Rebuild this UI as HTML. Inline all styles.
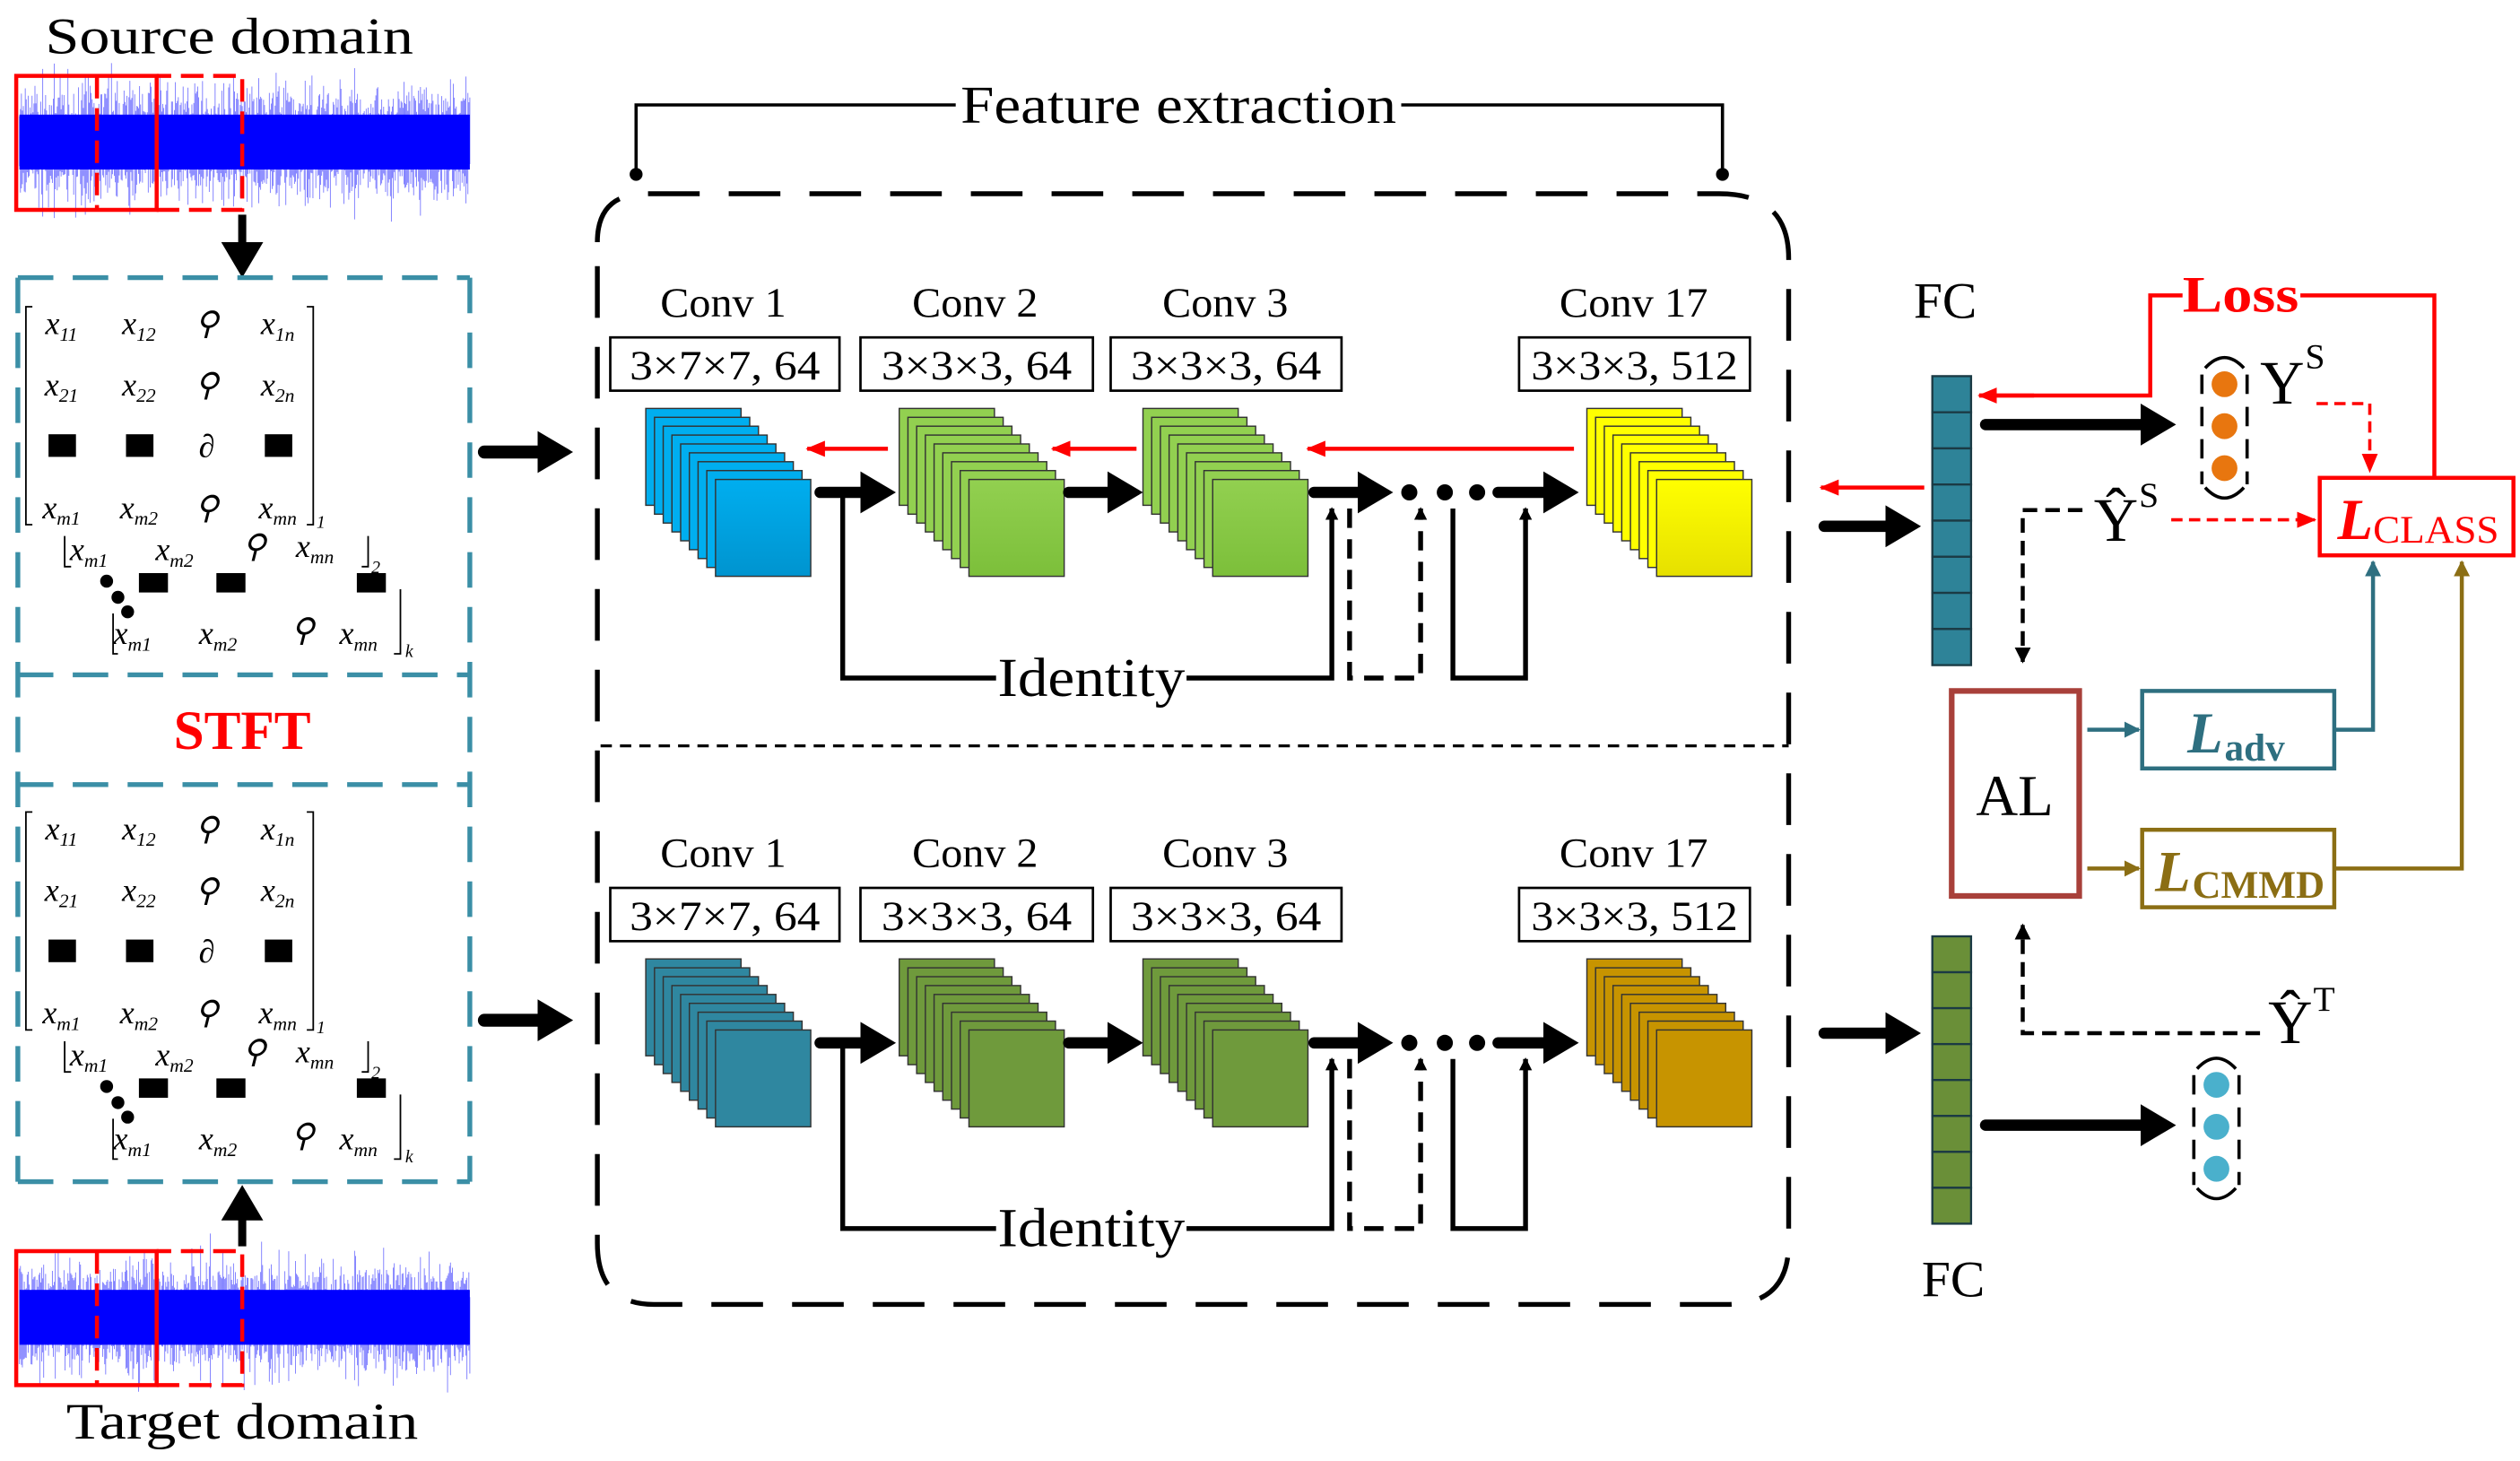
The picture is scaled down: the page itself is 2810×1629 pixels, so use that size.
<!DOCTYPE html>
<html><head><meta charset="utf-8"><style>
html,body{margin:0;padding:0;background:#fff;}
svg{display:block;}
text{font-family:"Liberation Serif",serif;}
</style></head><body>
<svg id="s" width="2810" height="1629" viewBox="0 0 1561 905" xmlns="http://www.w3.org/2000/svg">
<defs>
<marker id="ab" markerWidth="8" markerHeight="8" refX="7" refY="4" orient="auto" markerUnits="userSpaceOnUse"><path d="M0,0 L8,4 L0,8 z" fill="#000"/></marker>
<marker id="ar" markerWidth="12" markerHeight="10" refX="11" refY="5" orient="auto" markerUnits="userSpaceOnUse"><path d="M0,0 L12,5 L0,10 z" fill="#f00"/></marker>
<marker id="at" markerWidth="10" markerHeight="10" refX="9" refY="5" orient="auto" markerUnits="userSpaceOnUse"><path d="M0,0 L10,5 L0,10 z" fill="#2e6f80"/></marker>
<marker id="ao" markerWidth="10" markerHeight="10" refX="9" refY="5" orient="auto" markerUnits="userSpaceOnUse"><path d="M0,0 L10,5 L0,10 z" fill="#8b6e14"/></marker>
<marker id="ak" markerWidth="10" markerHeight="10" refX="9" refY="5" orient="auto" markerUnits="userSpaceOnUse"><path d="M0,0 L10,5 L0,10 z" fill="#000"/></marker>
<marker id="big" markerWidth="22" markerHeight="26" refX="2" refY="13" orient="auto" markerUnits="userSpaceOnUse"><path d="M0,0 L22,13 L0,26 z" fill="#000"/></marker>
<linearGradient id="gb" x1="0" y1="0" x2="0" y2="1"><stop offset="0" stop-color="#00aeef"/><stop offset="1" stop-color="#0094cf"/></linearGradient>
<linearGradient id="gg" x1="0" y1="0" x2="0" y2="1"><stop offset="0" stop-color="#92d050"/><stop offset="1" stop-color="#7cbf3a"/></linearGradient>
<linearGradient id="gy" x1="0" y1="0" x2="0" y2="1"><stop offset="0" stop-color="#ffff00"/><stop offset="1" stop-color="#e6e000"/></linearGradient>
</defs>
<g id="noise"></g>
<text x="142" y="33" font-size="32" text-anchor="middle" textLength="228" lengthAdjust="spacingAndGlyphs">Source domain</text>
<text x="150" y="891" font-size="32" text-anchor="middle" textLength="218" lengthAdjust="spacingAndGlyphs">Target domain</text>
<g fill="none" stroke="#f00" stroke-width="2.5">
<rect x="10" y="47" width="87" height="83"/>
<path d="M60,47 V130 M97,130 H150 V47 H97" stroke-dasharray="14,6"/>
<rect x="10" y="775" width="87" height="83"/>
<path d="M60,775 V858 M97,858 H150 V775 H97" stroke-dasharray="14,6"/>
</g>
<line x1="150" y1="133" x2="150" y2="152" stroke="#000" stroke-width="5" marker-end="url(#big)"/>
<line x1="150" y1="772" x2="150" y2="754" stroke="#000" stroke-width="5" marker-end="url(#big)"/>
<g fill="none" stroke="#3b8fa6" stroke-width="3" stroke-dasharray="22,12">
<path d="M11,172 H291 M11,418 H291 M11,486 H291 M11,732 H291 M11,172 V732 M291,172 V732"/>
</g>
<text x="150" y="464" font-size="34" font-weight="bold" fill="#f00" text-anchor="middle">STFT</text>
<g id="mat"></g>
<line x1="300" y1="280" x2="335" y2="280" stroke="#000" stroke-width="8" stroke-linecap="round" marker-end="url(#big)"/>
<line x1="300" y1="632" x2="335" y2="632" stroke="#000" stroke-width="8" stroke-linecap="round" marker-end="url(#big)"/>
<g fill="none" stroke="#000" stroke-width="3">
<path d="M370,150 Q370,120 400,120 H1065 Q1108,120 1108,160 V770 Q1108,808 1070,808 H405 Q370,808 370,770 Z" stroke-dasharray="32,18"/>
</g>
<line x1="372" y1="462" x2="1108" y2="462" stroke="#000" stroke-width="1.8" stroke-dasharray="7,5"/>
<path d="M394,108 V65 H592 M868,65 H1067 V108" fill="none" stroke="#000" stroke-width="2"/>
<circle cx="394" cy="108" r="4"/><circle cx="1067" cy="108" r="4"/>
<text x="730" y="76" font-size="33" text-anchor="middle" textLength="270" lengthAdjust="spacingAndGlyphs">Feature extraction</text>
<g id="rows"></g>
<g id="fc"></g>
<text x="1205" y="197" font-size="32" text-anchor="middle">FC</text>
<text x="1210" y="803" font-size="32" text-anchor="middle">FC</text>
<line x1="1130" y1="326" x2="1170" y2="326" stroke="#000" stroke-width="7" stroke-linecap="round" marker-end="url(#big)"/>
<line x1="1192" y1="302" x2="1128" y2="302" stroke="#f00" stroke-width="2.5" marker-end="url(#ar)"/>
<line x1="1130" y1="640" x2="1170" y2="640" stroke="#000" stroke-width="7" stroke-linecap="round" marker-end="url(#big)"/>
<line x1="1230" y1="263" x2="1328" y2="263" stroke="#000" stroke-width="7" stroke-linecap="round" marker-end="url(#big)"/>
<line x1="1230" y1="697" x2="1328" y2="697" stroke="#000" stroke-width="7" stroke-linecap="round" marker-end="url(#big)"/>
<g fill="#e8760f"><circle cx="1378" cy="238" r="8"/><circle cx="1378" cy="264" r="8"/><circle cx="1378" cy="290" r="8"/></g>
<g fill="#4ab0cc"><circle cx="1373" cy="672" r="8"/><circle cx="1373" cy="698" r="8"/><circle cx="1373" cy="724" r="8"/></g>
<g fill="none" stroke="#000" stroke-width="2">
<path d="M1366,228 Q1378,215 1390,228 M1366,302 Q1378,315 1390,302"/>
<path d="M1364,232 V300 M1392,232 V300" stroke-dasharray="12,8"/>
<path d="M1361,662 Q1373,649 1385,662 M1361,736 Q1373,749 1385,736"/>
<path d="M1359,666 V734 M1387,666 V734" stroke-dasharray="12,8"/>
</g>
<text x="1400" y="250" font-size="38">Y</text><text x="1428" y="228" font-size="22">S</text>
<text x="1297" y="335" font-size="38">Ŷ</text><text x="1325" y="314" font-size="22">S</text>
<text x="1405" y="646" font-size="38">Ŷ</text><text x="1433" y="626" font-size="22">T</text>
<path d="M1226,245 H1332 V183 H1352 M1425,183 H1508 V296" fill="none" stroke="#f00" stroke-width="2.5"/>
<line x1="1260" y1="245" x2="1226" y2="245" stroke="#f00" stroke-width="2.5" marker-end="url(#ar)"/>
<text x="1388" y="193" font-size="32" font-weight="bold" fill="#f00" text-anchor="middle" textLength="72" lengthAdjust="spacingAndGlyphs">Loss</text>
<path d="M1435,250 H1468 V292" fill="none" stroke="#f00" stroke-width="2" stroke-dasharray="7,4" marker-end="url(#ar)"/>
<line x1="1345" y1="322" x2="1434" y2="322" stroke="#f00" stroke-width="2" stroke-dasharray="7,4" marker-end="url(#ar)"/>
<rect x="1437" y="296" width="120" height="48" fill="none" stroke="#f00" stroke-width="2.5"/>
<text x="1448" y="334" font-size="36" font-weight="bold" font-style="italic" fill="#f00">L</text><text x="1470" y="336" font-size="24" fill="#f00" textLength="78" lengthAdjust="spacingAndGlyphs">CLASS</text>
<path d="M1290,316 H1253 V410" fill="none" stroke="#000" stroke-width="2.5" stroke-dasharray="9,5" marker-end="url(#ak)"/>
<rect x="1209" y="428" width="79" height="127" fill="none" stroke="#a8403a" stroke-width="3.5"/>
<text x="1248" y="505" font-size="36" text-anchor="middle">AL</text>
<path d="M1400,640 H1253 V573" fill="none" stroke="#000" stroke-width="2.5" stroke-dasharray="9,5" marker-end="url(#ak)"/>
<line x1="1293" y1="452" x2="1325" y2="452" stroke="#2e6f80" stroke-width="2.5" marker-end="url(#at)"/>
<rect x="1327" y="428" width="119" height="48" fill="none" stroke="#2e6f80" stroke-width="2.5"/>
<text x="1355" y="466" font-size="36" font-weight="bold" font-style="italic" fill="#2e6f80">L</text><text x="1378" y="471" font-size="24" font-weight="bold" fill="#2e6f80">adv</text>
<path d="M1446,452 H1470 V348" fill="none" stroke="#2e6f80" stroke-width="2.5" marker-end="url(#at)"/>
<line x1="1293" y1="538" x2="1325" y2="538" stroke="#8b6e14" stroke-width="2.5" marker-end="url(#ao)"/>
<rect x="1327" y="514" width="119" height="48" fill="none" stroke="#8b6e14" stroke-width="2.5"/>
<text x="1335" y="552" font-size="36" font-weight="bold" font-style="italic" fill="#8b6e14">L</text><text x="1358" y="556" font-size="24" font-weight="bold" fill="#8b6e14" textLength="82" lengthAdjust="spacingAndGlyphs">CMMD</text>
<path d="M1446,538 H1525 V348" fill="none" stroke="#8b6e14" stroke-width="2.5" marker-end="url(#ao)"/>
</svg>
<script>
var NS="http://www.w3.org/2000/svg";
function el(p,t,a,txt){var e=document.createElementNS(NS,t);for(var k in a)e.setAttribute(k,a[k]);if(txt!==undefined)e.textContent=txt;p.appendChild(e);return e;}
var seed=7;function rnd(){seed=(seed*16807)%2147483647;return seed/2147483647;}
var ng=document.getElementById('noise');
function noise(cy){
  var d='';
  for(var x=12;x<291;x+=0.6){var a=(rnd()*rnd())*30+14;d+='M'+x.toFixed(1)+','+(cy-a*rnd()-12).toFixed(1)+'V'+(cy+a*rnd()+12).toFixed(1);}
  el(ng,'path',{d:d,stroke:'#4040ff','stroke-width':0.5,opacity:0.7});
  el(ng,'rect',{x:12,y:cy-17,width:279,height:34,fill:'#0000ff'});
}
noise(88);noise(816);
var mg=document.getElementById('mat');
function xs(g,x,y,sub,anchor){var t=el(g,'text',{x:x,y:y,'text-anchor':anchor||'middle'});el(t,'tspan',{},'x');el(t,'tspan',{'font-size':12,dy:4},sub);return t;}
function mat(oy){
  var g=el(mg,'g',{'font-family':'Liberation Serif','font-style':'italic','font-size':20});
  var cols=[38,86,128,172];
  var rows=[['11','12','⚲','1n'],['21','22','⚲','2n'],['▲','▲','∂','▲'],['m1','m2','⚲','mn']];
  var ys=[32,70,108,146];
  for(var r=0;r<4;r++)for(var c=0;c<4;c++){
    var t=rows[r][c];
    if(t=='▲'){el(g,'rect',{x:cols[c]-8,y:oy+ys[r]-14,width:17,height:14,fill:'#000'});continue;}
    if(c==2){el(g,'text',{x:cols[c],y:oy+ys[r],'text-anchor':'middle'},t);continue;}
    xs(g,cols[c],oy+ys[r],t);
  }
  el(g,'path',{d:'M20,'+(oy+15)+' h-4 V'+(oy+150)+' h4 M190,'+(oy+15)+' h4 V'+(oy+150)+' h-4',fill:'none',stroke:'#000','stroke-width':1});
  el(g,'text',{x:196,y:oy+152,'font-size':11},'1');
  xs(g,55,oy+172,'m1');xs(g,108,oy+172,'m2');el(g,'text',{x:150,y:oy+170},'⚲');xs(g,195,oy+170,'mn');
  el(g,'path',{d:'M40,'+(oy+157)+' V'+(oy+176)+' h4 M228,'+(oy+157)+' V'+(oy+176)+' h-4',fill:'none',stroke:'#000','stroke-width':1});
  el(g,'text',{x:230,y:oy+180,'font-size':11},'2');
  [95,143,230].forEach(function(v){el(g,'rect',{x:v-9,y:oy+180,width:18,height:12,fill:'#000'});});
  el(g,'circle',{cx:66,cy:oy+185,r:4});el(g,'circle',{cx:73,cy:oy+195,r:4});el(g,'circle',{cx:79,cy:oy+204,r:4});
  xs(g,82,oy+224,'m1');xs(g,135,oy+224,'m2');el(g,'text',{x:180,y:oy+222},'⚲');xs(g,222,oy+224,'mn');
  el(g,'path',{d:'M70,'+(oy+205)+' V'+(oy+230)+' h3 M248,'+(oy+190)+' V'+(oy+230)+' h-4',fill:'none',stroke:'#000','stroke-width':1});
  el(g,'text',{x:251,y:oy+232,'font-size':11},'k');
}
mat(175);mat(488);
var rg=document.getElementById('rows');
function stack(x,y,fill,front){
  for(var i=0;i<9;i++){el(rg,'rect',{x:x+i*5.4,y:y+i*5.5,width:59,height:60,fill:(i==8?front:fill),stroke:'#333','stroke-width':0.8});}
}
function arrowH(x1,x2,y,color,w,mk){el(rg,'line',{x1:x1,y1:y,x2:x2,y2:y,stroke:color,'stroke-width':w,'stroke-linecap':'round','marker-end':'url(#'+mk+')'});}
function row(dy,cols,top){
  var labels=['Conv 1','Conv 2','Conv 3','Conv 17'],lx=[448,604,759,1012];
  var bx=[[378,142,'3×7×7, 64'],[533,144,'3×3×3, 64'],[688,143,'3×3×3, 64'],[941,143,'3×3×3, 512']];
  for(var i=0;i<4;i++){
    el(rg,'text',{x:lx[i],y:196+dy,'font-size':26,'text-anchor':'middle',textLength:(i==3?92:78),lengthAdjust:'spacingAndGlyphs'},labels[i]);
    el(rg,'rect',{x:bx[i][0],y:209+dy,width:bx[i][1],height:33,fill:'#fff',stroke:'#000','stroke-width':1.5});
    el(rg,'text',{x:bx[i][0]+bx[i][1]/2,y:235+dy,'font-size':26,'text-anchor':'middle',textLength:(i==3?128:118),lengthAdjust:'spacingAndGlyphs'},bx[i][2]);
  }
  var sx=[400,557,708,983];
  for(var i=0;i<4;i++)stack(sx[i],253+dy,cols[i][0],cols[i][1]);
  var y=305+dy;
  arrowH(508,535,y,'#000',7,'big');arrowH(662,688,y,'#000',7,'big');arrowH(814,843,y,'#000',7,'big');
  [873,895,915].forEach(function(cx){el(rg,'circle',{cx:cx,cy:y,r:5});});
  arrowH(928,958,y,'#000',7,'big');
  if(top){
    el(rg,'line',{x1:550,y1:278,x2:500,y2:278,stroke:'#f00','stroke-width':2.5,'marker-end':'url(#ar)'});
    el(rg,'line',{x1:704,y1:278,x2:652,y2:278,stroke:'#f00','stroke-width':2.5,'marker-end':'url(#ar)'});
    el(rg,'line',{x1:975,y1:278,x2:810,y2:278,stroke:'#f00','stroke-width':2.5,'marker-end':'url(#ar)'});
  }
  var b=420+dy;
  el(rg,'path',{d:'M522,'+(y+2)+' V'+b+' H617 M735,'+b+' H825 V'+(y+10),fill:'none',stroke:'#000','stroke-width':3,'marker-end':'url(#ab)'});
  el(rg,'path',{d:'M836,'+(y+10)+' V'+b+' H880 V'+(y+10),fill:'none',stroke:'#000','stroke-width':3,'stroke-dasharray':'12,7','marker-end':'url(#ab)'});
  el(rg,'path',{d:'M900,'+(y+10)+' V'+b+' H945 V'+(y+10),fill:'none',stroke:'#000','stroke-width':3,'marker-end':'url(#ab)'});
  el(rg,'text',{x:676,y:b+11,'font-size':34,'text-anchor':'middle',textLength:116,lengthAdjust:'spacingAndGlyphs'},'Identity');
}
row(0,[['#00aeef','url(#gb)'],['#92d050','url(#gg)'],['#92d050','url(#gg)'],['#ffff00','url(#gy)']],true);
row(341,[['#2f87a0','#2f87a0'],['#6f9a3c','#6f9a3c'],['#6f9a3c','#6f9a3c'],['#c79400','#c79400']],false);
var fg=document.getElementById('fc');
function fc(y0,h,c){for(var i=0;i<8;i++)el(fg,'rect',{x:1197,y:y0+i*h/8,width:24,height:h/8,fill:c,stroke:'#1b3a44','stroke-width':1.3});}
fc(233,179,'#2e8398');fc(580,178,'#6a8f38');
</script>
</body></html>
